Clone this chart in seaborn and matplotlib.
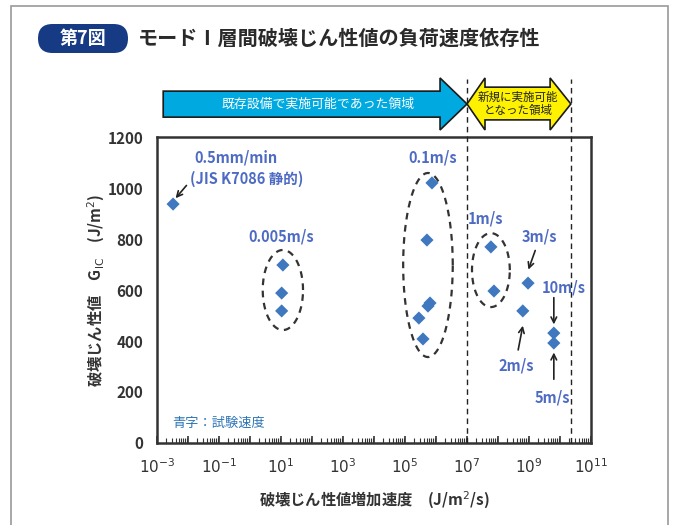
import numpy as np
import pandas as pd
import matplotlib
matplotlib.use("Agg")
import matplotlib.pyplot as plt
import matplotlib.transforms as mtransforms
from matplotlib.patches import Polygon, FancyBboxPatch, Rectangle
import seaborn as sns

# data
rate = [3.3e-3, 11.5, 10.5, 10.5,
        7.4e5, 5.1e5, 6.4e5, 5.5e5, 2.8e5, 3.8e5,
        5.9e7, 7.4e7, 6.3e8, 9.3e8, 6.3e9, 6.3e9]
gic = [937, 698, 588, 518,
       1020, 796, 549, 537, 490, 408,
       769, 596, 518, 627, 431, 392]
x_exponents = list(range(-3, 12))
y_ticks = [0, 200, 400, 600, 800, 1000, 1200]
region_bounds = [1e7, 2.2e10]

title = "モードⅠ層間破壊じん性値の負荷速度依存性"
fig_no = "第7図"
old_region = "既存設備で実施可能であった領域"
new_region = "新規に実施可能\nとなった領域"

df = pd.DataFrame({"rate": rate, "gic": gic})

sns.set_style("white")
plt.rcParams['font.family'] = ['Noto Sans CJK JP', 'DejaVu Sans']
plt.rcParams['mathtext.fontset'] = 'dejavusans'

TXT_BLUE = "#4e6bc4"
PT_BLUE = "#3f78bf"
GRAY = "#333333"

fig = plt.figure(figsize=(6.75, 5.25), dpi=100)
ax = fig.add_axes([0.2326, 0.1562, 0.643, 0.5828])

sns.scatterplot(data=df, x="rate", y="gic", marker="D", s=45, color=PT_BLUE,
                edgecolor="none", ax=ax, zorder=5)

ax.set_xscale("log")
ax.set_xlim(1e-3, 1e11)
ax.set_ylim(0, 1200)
ax.set_xticks([10.0 ** k for k in x_exponents])
ax.set_xticklabels([f"$10^{{{k}}}$" if k % 2 else "" for k in x_exponents])
ax.xaxis.set_minor_locator(matplotlib.ticker.LogLocator(base=10, subs=np.arange(2, 10), numticks=200))
ax.xaxis.set_minor_formatter(matplotlib.ticker.NullFormatter())
ax.set_yticks(y_ticks)
ax.tick_params(axis="x", which="both", bottom=True)
ax.tick_params(axis="x", which="major", direction="in", length=5, width=1.2, colors=GRAY,
               labelsize=11, pad=10)
ax.tick_params(axis="x", which="minor", direction="in", length=3.5, width=0.8, colors=GRAY)
ax.tick_params(axis="y", length=0, labelsize=11, colors=GRAY, pad=10)
for lab in ax.get_xticklabels() + ax.get_yticklabels():
    lab.set_fontweight("bold")
for sp in ax.spines.values():
    sp.set_color("#333333")
    sp.set_linewidth(1.8)

ax.set_xlabel("破壊じん性値増加速度　(J/m$^2$/s)", fontsize=11, fontweight="bold",
              color=GRAY, labelpad=10)
ax.set_ylabel(r"破壊じん性値　G$_{\mathrm{IC}}$　(J/m$^2$)", fontsize=11, fontweight="bold",
              color=GRAY, labelpad=0)

# region boundaries
for xb in region_bounds:
    ax.axvline(xb, ymin=0, ymax=1.19, color="#222222", lw=1, ls=(0, (4, 3)),
               clip_on=False, zorder=3)

# dashed ellipses around groups (log-x centre, decades half-width, y centre, half-height)
for cx, a, cy, b in [(1.06, 0.65, 600, 157), (5.74, 0.8, 698, 361), (7.77, 0.61, 678, 145)]:
    t = np.linspace(0, 2 * np.pi, 200)
    ax.plot(10 ** (cx + a * np.cos(t)), cy + b * np.sin(t), color="#333333",
            lw=1.6, ls=(0, (3, 2.5)), zorder=4)

# region arrows above axes
bt = mtransforms.blended_transform_factory(ax.transData, ax.transAxes)
blue_arrow = [(10 ** -2.8, 1.065), (10 ** 6.13, 1.065), (10 ** 6.13, 1.023), (1e7, 1.108),
              (10 ** 6.13, 1.193), (10 ** 6.13, 1.150), (10 ** -2.8, 1.150)]
ax.add_patch(Polygon(blue_arrow, closed=True, transform=bt, fc="#00a9e0", ec="#1a1a1a",
                     lw=1.2, clip_on=False, zorder=6))
yellow_arrow = [(1e7, 1.108), (10 ** 7.58, 1.193), (10 ** 7.58, 1.163), (10 ** 9.68, 1.163),
                (10 ** 9.68, 1.193), (10 ** 10.35, 1.108), (10 ** 9.68, 1.023),
                (10 ** 9.68, 1.056), (10 ** 7.58, 1.056), (10 ** 7.58, 1.023)]
ax.add_patch(Polygon(yellow_arrow, closed=True, transform=bt, fc="#fff200", ec="#1a1a1a",
                     lw=1.2, clip_on=False, zorder=6))
ax.text(10 ** 2.2, 1.108, old_region, transform=bt, ha="center", va="center",
        color="white", fontsize=9.3, zorder=7)
ax.text(10 ** 8.65, 1.108, new_region, transform=bt, ha="center", va="center",
        color="#222222", fontsize=8.3, linespacing=1.0, zorder=7)

# speed labels
lab_kw = dict(color=TXT_BLUE, fontsize=10.5, fontweight="bold", ha="center", va="center")
arr = dict(arrowstyle="->", color="#222222", lw=1.2, shrinkA=0, shrinkB=0)
ax.text(10 ** -1.8, 1120, "0.5mm/min", ha="left", va="center", color=TXT_BLUE,
        fontsize=10.5, fontweight="bold")
ax.text(10 ** -1.95, 1035, "(JIS K7086 静的)", ha="left", va="center", color=TXT_BLUE,
        fontsize=10.5, fontweight="bold")
ax.annotate("", xy=(10 ** -2.4, 960), xytext=(10 ** -2.05, 1010), arrowprops=arr)
ax.text(10 ** 1.0, 810, "0.005m/s", **lab_kw)
ax.text(10 ** 5.9, 1120, "0.1m/s", **lab_kw)
ax.text(10 ** 7.6, 880, "1m/s", **lab_kw)
ax.text(10 ** 9.33, 810, "3m/s", **lab_kw)
ax.annotate("", xy=(10 ** 8.98, 680), xytext=(10 ** 9.2, 755), arrowprops=arr)
ax.text(10 ** 10.13, 610, "10m/s", **lab_kw)
ax.annotate("", xy=(10 ** 9.8, 465), xytext=(10 ** 9.8, 570), arrowprops=arr)
ax.text(10 ** 8.6, 305, "2m/s", **lab_kw)
ax.annotate("", xy=(10 ** 8.8, 460), xytext=(10 ** 8.65, 365), arrowprops=arr)
ax.text(10 ** 9.75, 180, "5m/s", **lab_kw)
ax.annotate("", xy=(10 ** 9.8, 355), xytext=(10 ** 9.8, 250), arrowprops=arr)
ax.text(10 ** -2.5, 78, "青字：試験速度", ha="left", va="center", color="#2e75b6", fontsize=9.5)

# figure frame and title
fig.patches.append(Rectangle((11, -10), 657, 529, transform=None, fill=False,
                             ec="#9a9a9a", lw=1.2))
fig.patches.append(FancyBboxPatch((0.38, 4.72), 0.90, 0.29,
                                  boxstyle="round,pad=0,rounding_size=0.145",
                                  transform=fig.dpi_scale_trans, fc="#173a84", ec="none"))
fig.text(0.83 / 6.75, 4.865 / 5.25, fig_no, ha="center", va="center", color="white",
         fontsize=13, fontweight="bold")
fig.text(1.38 / 6.75, 4.865 / 5.25, title, ha="left", va="center", color="#2a2a2a",
         fontsize=14.5, fontweight="bold")

fig.savefig("out.png", dpi=100)
